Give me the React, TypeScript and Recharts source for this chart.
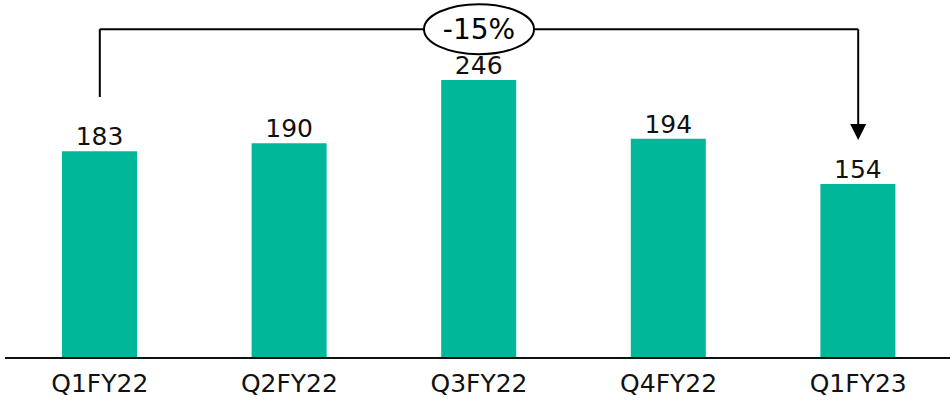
import { BarChart, Bar, XAxis, YAxis, LabelList, ReferenceLine, ReferenceDot } from 'recharts';

const QUARTERS = ['Q1FY22', 'Q2FY22', 'Q3FY22', 'Q4FY22', 'Q1FY23'];
const VALUES = [183, 190, 246, 194, 154];
const CHANGE_LABEL = '-15%';

// bracket levels, in axis units
const BRACKET_TOP = 291;
const LEFT_END = 231;
const ARROW_TIP = 193;

const data = QUARTERS.map((q, i) => ({ quarter: q, value: VALUES[i] }));

const FONT = '"DejaVu Sans", sans-serif';
const BAR_COLOR = '#00B899';

const Arrowhead = (props: any) => {
  const { cx, cy } = props;
  return <polygon points={`${cx},${cy} ${cx - 8},${cy - 16} ${cx + 8},${cy - 16}`} fill="#000" />;
};

const Bubble = (props: any) => {
  const { cx, cy } = props;
  return (
    <g>
      <ellipse cx={cx} cy={cy} rx={55} ry={25} fill="#fff" stroke="#000" strokeWidth={2} />
      <text x={cx} y={cy} dy={10} textAnchor="middle" fontSize={28} fontFamily={FONT} fill="#000">
        {CHANGE_LABEL}
      </text>
    </g>
  );
};

export default function App() {
  const first = QUARTERS[0];
  const last = QUARTERS[QUARTERS.length - 1];
  return (
    <div style={{ position: 'absolute', left: 0, top: 0, width: 950, height: 401, background: '#fff', overflow: 'hidden' }}>
      <BarChart width={953} height={401} data={data} margin={{ top: 10, right: 0, bottom: 0, left: 5 }}>
        <YAxis hide domain={[0, 308]} />
        <XAxis
          dataKey="quarter"
          height={43}
          tickSize={0}
          tickMargin={16}
          axisLine={{ stroke: '#111', strokeWidth: 2 }}
          tickLine={false}
          tick={{ fontSize: 25, fontFamily: FONT, fill: '#111' }}
          interval={0}
        />
        <Bar dataKey="value" fill={BAR_COLOR} barSize={75} isAnimationActive={false}>
          <LabelList dataKey="value" position="top" offset={6} style={{ fontSize: 25, fontFamily: FONT, fill: '#111' }} />
        </Bar>
        <ReferenceLine segment={[{ x: first, y: BRACKET_TOP }, { x: last, y: BRACKET_TOP }]} stroke="#000" strokeWidth={2} />
        <ReferenceLine segment={[{ x: first, y: BRACKET_TOP }, { x: first, y: LEFT_END }]} stroke="#000" strokeWidth={2} />
        <ReferenceLine segment={[{ x: last, y: BRACKET_TOP }, { x: last, y: ARROW_TIP + 12 }]} stroke="#000" strokeWidth={2} />
        <ReferenceDot x={last} y={ARROW_TIP} shape={Arrowhead} />
        <ReferenceDot x={QUARTERS[2]} y={BRACKET_TOP} shape={Bubble} />
      </BarChart>
    </div>
  );
}
